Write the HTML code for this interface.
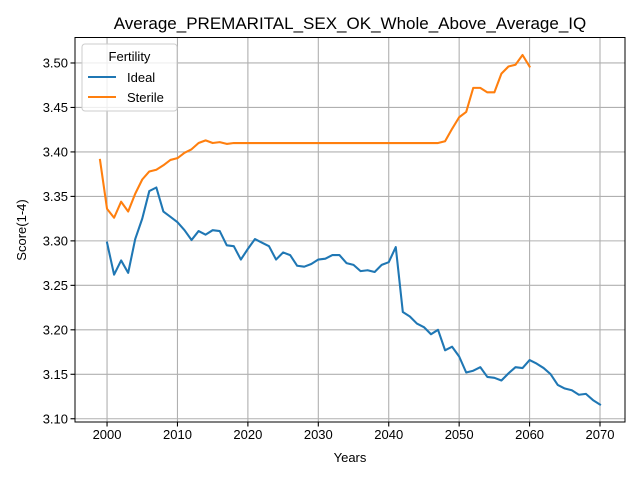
<!DOCTYPE html>
<html><head><meta charset="utf-8"><style>
body{margin:0;background:#fff}
svg text{font-family:"Liberation Sans","DejaVu Sans",sans-serif;fill:#000}
</style></head><body>
<svg id="chart" width="640" height="480" xmlns="http://www.w3.org/2000/svg">
<rect width="640" height="480" fill="#fff"/>
<g id="grid"></g>
<g id="series"></g>
<rect x="75" y="37.5" width="550" height="384.5" fill="none" stroke="#000" stroke-width="1"/>
<g id="ticks"></g>
<text x="350" y="29" font-size="17" text-anchor="middle">Average_PREMARITAL_SEX_OK_Whole_Above_Average_IQ</text>
<text x="350" y="462" font-size="13" text-anchor="middle">Years</text>
<text x="26" y="230" font-size="13" text-anchor="middle" transform="rotate(-90 26 230)">Score(1-4)</text>
<g>
<rect x="82" y="44" width="95" height="67" rx="3" fill="#fff" fill-opacity="0.8" stroke="#ccc"/>
<text x="129.5" y="61" font-size="13" text-anchor="middle">Fertility</text>
<line x1="88" x2="116" y1="77" y2="77" stroke="#1f77b4" stroke-width="2.08"/>
<text x="127" y="82" font-size="13">Ideal</text>
<line x1="88" x2="116" y1="97" y2="97" stroke="#ff7f0e" stroke-width="2.08"/>
<text x="127" y="102" font-size="13">Sterile</text>
</g>
</svg>
<script>
const idealYears=[2000,2001,2002,2003,2004,2005,2006,2007,2008,2009,2010,2011,2012,2013,2014,2015,2016,2017,2018,2019,2020,2021,2022,2023,2024,2025,2026,2027,2028,2029,2030,2031,2032,2033,2034,2035,2036,2037,2038,2039,2040,2041,2042,2043,2044,2045,2046,2047,2048,2049,2050,2051,2052,2053,2054,2055,2056,2057,2058,2059,2060,2061,2062,2063,2064,2065,2066,2067,2068,2069,2070];
const idealValues=[3.298,3.262,3.278,3.264,3.302,3.325,3.356,3.360,3.333,3.327,3.321,3.312,3.301,3.311,3.307,3.312,3.311,3.295,3.294,3.279,3.291,3.302,3.298,3.294,3.279,3.287,3.284,3.272,3.271,3.274,3.279,3.280,3.284,3.284,3.275,3.273,3.266,3.267,3.265,3.273,3.276,3.293,3.220,3.215,3.207,3.203,3.195,3.200,3.177,3.181,3.170,3.152,3.154,3.158,3.147,3.146,3.143,3.151,3.158,3.157,3.166,3.162,3.157,3.150,3.138,3.134,3.132,3.127,3.128,3.121,3.116];
const sterileYears=[1999,2000,2001,2002,2003,2004,2005,2006,2007,2008,2009,2010,2011,2012,2013,2014,2015,2016,2017,2018,2019,2020,2021,2022,2023,2024,2025,2026,2027,2028,2029,2030,2031,2032,2033,2034,2035,2036,2037,2038,2039,2040,2041,2042,2043,2044,2045,2046,2047,2048,2049,2050,2051,2052,2053,2054,2055,2056,2057,2058,2059,2060];
const sterileValues=[3.391,3.336,3.326,3.344,3.333,3.353,3.369,3.378,3.380,3.385,3.391,3.393,3.399,3.403,3.410,3.413,3.410,3.411,3.409,3.41,3.41,3.41,3.41,3.41,3.41,3.41,3.41,3.41,3.41,3.41,3.41,3.41,3.41,3.41,3.41,3.41,3.41,3.41,3.41,3.41,3.41,3.41,3.41,3.41,3.41,3.41,3.41,3.41,3.410,3.412,3.426,3.439,3.445,3.472,3.472,3.467,3.467,3.488,3.496,3.498,3.509,3.496];
const xTicks=[2000,2010,2020,2030,2040,2050,2060,2070];
const yTicks=[3.10,3.15,3.20,3.25,3.30,3.35,3.40,3.45,3.50];

const L=75,R=625,T=37.5,B=422;
const allX=idealYears.concat(sterileYears), allY=idealValues.concat(sterileValues);
const xmin0=Math.min(...allX),xmax0=Math.max(...allX),ymin0=Math.min(...allY),ymax0=Math.max(...allY);
const xm=(xmax0-xmin0)*0.05, ym=(ymax0-ymin0)*0.05;
const xmin=xmin0-xm,xmax=xmax0+xm,ymin=ymin0-ym,ymax=ymax0+ym;
const sx=v=>L+(v-xmin)/(xmax-xmin)*(R-L);
const sy=v=>B-(v-ymin)/(ymax-ymin)*(B-T);
const NS='http://www.w3.org/2000/svg';
const grid=document.getElementById('grid'),ticks=document.getElementById('ticks'),series=document.getElementById('series');
function mk(tag,attrs,parent){const e=document.createElementNS(NS,tag);for(const k in attrs)e.setAttribute(k,attrs[k]);parent.appendChild(e);return e;}
xTicks.forEach(t=>{
  const x=sx(t);
  const g=mk('line',{x1:x,x2:x,y1:T,y2:B,stroke:'#b0b0b0','stroke-width':1.1},grid);
  
  
  const tk=mk('line',{x1:x,x2:x,y1:B,y2:B+4.5,stroke:'#000','stroke-width':1.1},ticks);
  
  
  const tx=mk('text',{x:x,y:B+17,'font-size':13,'text-anchor':'middle'},ticks);
  tx.textContent=t;
  
  
});
yTicks.forEach(t=>{
  const y=sy(t);
  const g=mk('line',{x1:L,x2:R,y1:y,y2:y,stroke:'#b0b0b0','stroke-width':1.1},grid);
  
  
  const tk=mk('line',{x1:L-4.5,x2:L,y1:y,y2:y,stroke:'#000','stroke-width':1.1},ticks);
  
  
  const tx=mk('text',{x:L-7,y:y+4.5,'font-size':13,'text-anchor':'end'},ticks);
  tx.textContent=t.toFixed(2);
  
  
});
function line(xs,ys,color,name){
  const d=xs.map((x,i)=>(i?'L':'M')+sx(x).toFixed(2)+','+sy(ys[i]).toFixed(2)).join('');
  const p=mk('path',{d:d,fill:'none',stroke:color,'stroke-width':2.08,'stroke-linejoin':'round','stroke-linecap':'square'},series);
  
  
}
line(idealYears,idealValues,'#1f77b4','ideal-line');
line(sterileYears,sterileValues,'#ff7f0e','sterile-line');
</script>
</body></html>
